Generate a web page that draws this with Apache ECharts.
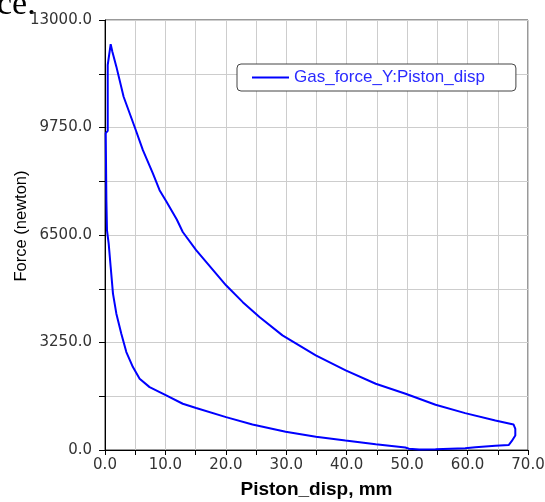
<!DOCTYPE html>
<html>
<head>
<meta charset="utf-8">
<script src="https://cdn.jsdelivr.net/npm/echarts@6/dist/echarts.min.js"></script>
<style>
  html, body { margin: 0; padding: 0; background: #fff; }
  #chart { width: 545px; height: 502px; }
</style>
</head>
<body>
<div id="chart"></div>
<script>
// Gas force vs piston displacement, one full cycle (closed loop)
const seriesName = 'Gas_force_Y:Piston_disp';

const pistonDisp = [
  0.94, 1.22, 1.88, 3.08, 5.0, 6.27, 7.92, 9.03, 10.13, 11.88, 12.87, 15.08,
  20.03, 22.8, 25.56, 29.37, 34.88, 39.83, 44.8, 49.74, 54.7, 59.6, 64.6, 67.6,
  67.9, 67.9, 67.3, 66.8, 64.6, 61.3, 59.6, 54.7, 52.0, 50.3, 49.7, 44.8, 39.8,
  34.9, 29.9, 24.4, 20.03, 15.08, 12.87, 10.13, 7.38, 5.73, 4.62, 3.53, 2.7,
  1.88, 1.32, 0.94, 0.61, 0.33, 0.23, 0.12, 0.45, 0.45, 0.94
];

const gasForce = [
  12270, 12040, 11590, 10680, 9720, 9065, 8360, 7855, 7520, 6970, 6590, 6040,
  4980, 4470, 4020, 3466, 2860, 2406, 2003, 1701, 1368, 1114, 893, 772,
  641, 439, 266, 150, 127, 85, 55, 24, 15, 40, 75, 177, 288,
  400, 550, 772, 993, 1270, 1398, 1650, 1901, 2155, 2506, 2960, 3517,
  4122, 4728, 5533, 6241, 6643, 7552, 9580, 9650, 11640, 12270
];

// Labelled ticks; the axes also carry unlabelled minor ticks halfway between
const xTickLabels = [0, 10, 20, 30, 40, 50, 60, 70];
const yTickLabels = [0, 3250, 6500, 9750, 13000];

const loop = pistonDisp.map((d, i) => [d, gasForce[i]]);

const chart = echarts.init(document.getElementById('chart'), null, { renderer: 'canvas' });

const tickFont = '"DejaVu Sans", Verdana, sans-serif';

chart.setOption({
  animation: false,
  backgroundColor: '#ffffff',
  grid: {
    left: 105, right: 17, top: 20, bottom: 52,
    containLabel: false,
    outerBoundsMode: 'none',
    show: true,
    borderColor: '#333333',
    borderWidth: 1,
    backgroundColor: 'transparent'
  },
  legend: {
    data: [{ name: seriesName, icon: 'rect' }],
    selectedMode: false,
    left: 237,
    top: 64,
    itemWidth: 37,
    itemHeight: 2,
    padding: [5, 31, 5, 15],
    backgroundColor: '#ffffff',
    borderColor: '#444444',
    borderWidth: 1,
    borderRadius: 4,
    textStyle: {
      color: '#2a2aff',
      fontFamily: '"Liberation Sans", Arial, sans-serif',
      fontSize: 17
    }
  },
  xAxis: {
    type: 'value',
    min: 0,
    max: 70,
    interval: 5,
    name: 'Piston_disp, mm',
    nameLocation: 'middle',
    nameGap: 30,
    nameTextStyle: {
      color: '#000',
      fontFamily: '"Liberation Sans", Arial, sans-serif',
      fontWeight: 'bold',
      fontSize: 19
    },
    axisLine: { show: true, onZero: false, lineStyle: { color: '#000', width: 1 } },
    axisTick: { show: true, inside: false, length: 5, lineStyle: { color: '#000' } },
    axisLabel: {
      margin: 8,
      color: '#333',
      fontFamily: tickFont,
      fontSize: 15,
      showMinLabel: true,
      showMaxLabel: true,
      formatter: v => xTickLabels.includes(v) ? v.toFixed(1) : ''
    },
    splitLine: { show: true, lineStyle: { color: '#cdcdcd', width: 1 } }
  },
  yAxis: {
    type: 'value',
    min: 0,
    max: 13000,
    interval: 1625,
    axisLine: { show: true, onZero: false, lineStyle: { color: '#000', width: 1 } },
    axisTick: { show: true, inside: false, length: 6, lineStyle: { color: '#000' } },
    axisLabel: {
      margin: 13,
      color: '#333',
      fontFamily: tickFont,
      fontSize: 15,
      showMinLabel: true,
      showMaxLabel: true,
      formatter: v => yTickLabels.includes(v) ? v.toFixed(1) : ''
    },
    splitLine: { show: true, lineStyle: { color: '#cdcdcd', width: 1 } }
  },
  graphic: [
    {
      type: 'text',
      x: 21,
      y: 226,
      rotation: Math.PI / 2,
      style: {
        text: 'Force (newton)',
        font: '16.5px "Liberation Sans", Arial, sans-serif',
        fill: '#000',
        align: 'center',
        verticalAlign: 'middle'
      }
    },
    {
      type: 'text',
      x: -3,
      y: 22,
      style: {
        text: 'ce.',
        font: '34px "Liberation Serif", "Times New Roman", serif',
        fill: '#000',
        align: 'left',
        verticalAlign: 'bottom'
      }
    }
  ],
  series: [
    {
      name: seriesName,
      type: 'line',
      data: loop,
      showSymbol: false,
      smooth: false,
      clip: false,
      color: '#0000ff',
      lineStyle: { color: '#0000ff', width: 2 }
    }
  ]
});
</script>
</body>
</html>
